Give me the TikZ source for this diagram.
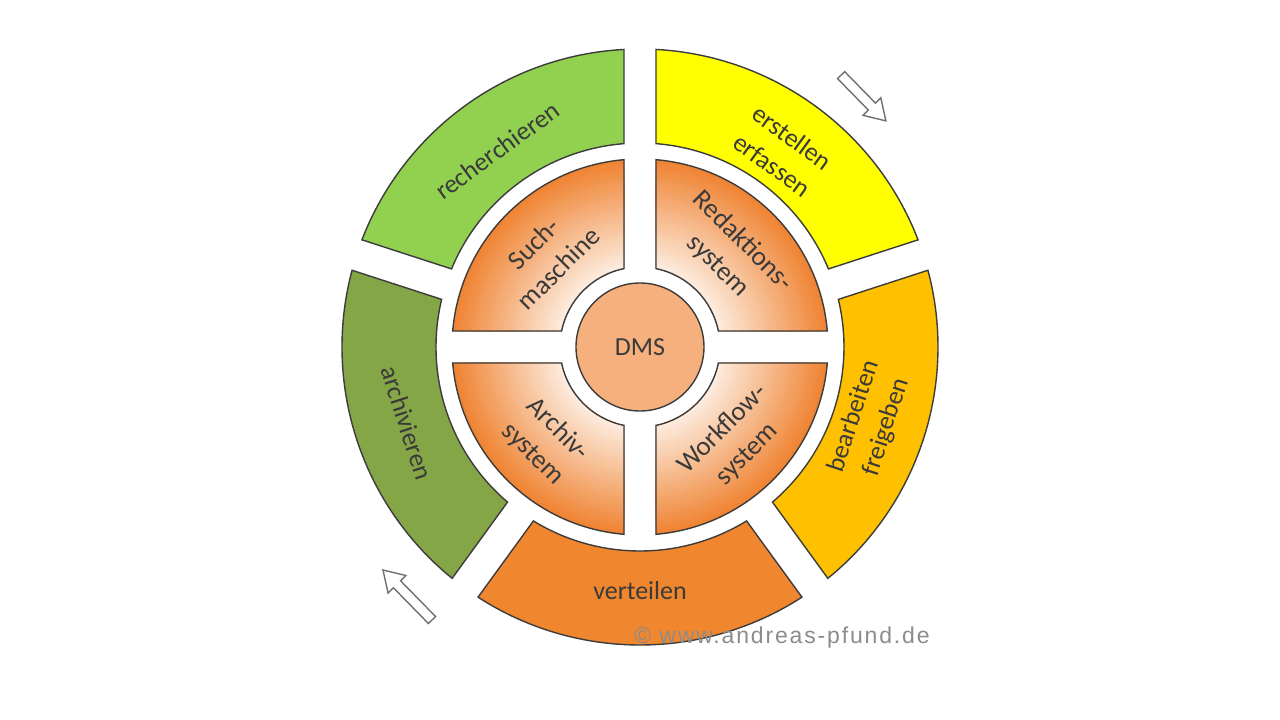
\documentclass[tikz,border=0pt]{standalone}
\usepackage{fontspec}
\setmainfont{Carlito}
\newfontfamily\wmfont[LetterSpace=8]{Liberation Sans}
\definecolor{cRech}{HTML}{92D050}
\definecolor{cErst}{HTML}{FFFF00}
\definecolor{cBear}{HTML}{FFC000}
\definecolor{cVert}{HTML}{F0862D}
\definecolor{cArch}{HTML}{84A646}
\definecolor{cDMS}{HTML}{F5B07E}
\definecolor{qdark}{HTML}{EF8230}
\definecolor{qlight}{HTML}{FDEEE2}
\definecolor{cLine}{HTML}{3C3C3C}
\definecolor{cText}{HTML}{3A3A3A}
\definecolor{cWM}{HTML}{8C8C8C}
\definecolor{cArrow}{HTML}{707070}
\newcommand\segpath[6]{(#1-#6:#4) arc[start angle=#1-#6, end angle=#2+#6, radius=#4] -- (#2+#5:#3) arc[start angle=#2+#5, end angle=#1-#5, radius=#3] -- cycle}
\newcommand\flowarrow[3]{%
  \begin{scope}[shift={#1}, rotate=#2]
    \draw[arrowline] (-#3/2,-5) -- (#3/2-20,-5) -- (#3/2-20,-12.5) -- (#3/2,0) -- (#3/2-20,12.5) -- (#3/2-20,5) -- (-#3/2,5) -- cycle;
  \end{scope}}
\pgfmathsetmacro\dO{asin(16/298)}
\pgfmathsetmacro\dI{asin(16/204)}
\pgfmathsetmacro\qO{asin(16/188)}
\pgfmathsetmacro\qI{asin(16/80)}
\begin{document}
\begin{tikzpicture}[x=1pt,y=1pt,
  segline/.style={draw=cLine, line width=1.4pt, line join=miter},
  ringtxt/.style={text=cText, font=\fontsize{26}{34}\selectfont, align=center, inner sep=0pt},
  quadtxt/.style={text=cText, font=\fontsize{27}{35}\selectfont, align=center, inner sep=0pt},
  arrowline/.style={draw=cArrow, fill=white, line width=1.4pt, line join=miter}]
\fill[white] (-640,-373) rectangle (640,347);
\useasboundingbox (-640,-373) rectangle (640,347);
% outer ring
\path[segline, fill=cErst] \segpath{90}{18}{204}{298}{\dI}{\dO};
\path[segline, fill=cBear] \segpath{18}{-54}{204}{298}{\dI}{\dO};
\path[segline, fill=cVert] \segpath{-54}{-126}{204}{298}{\dI}{\dO};
\path[segline, fill=cArch] \segpath{234}{162}{204}{298}{\dI}{\dO};
\path[segline, fill=cRech] \segpath{162}{90}{204}{298}{\dI}{\dO};
% inner quadrants with radial gradient
\begin{scope}
  \clip \segpath{180}{90}{80}{188}{\qI}{\qO} \segpath{90}{0}{80}{188}{\qI}{\qO}
        \segpath{0}{-90}{80}{188}{\qI}{\qO} \segpath{-90}{-180}{80}{188}{\qI}{\qO};
  \foreach \i in {0,...,40} {
    \pgfmathsetmacro\rr{190-\i*2.75}
    \pgfmathtruncatemacro\pp{\i*2.5}
    \fill[qlight!\pp!qdark] (0,0) circle (\rr);
  }
\end{scope}
\path[segline] \segpath{180}{90}{80}{188}{\qI}{\qO};
\path[segline] \segpath{90}{0}{80}{188}{\qI}{\qO};
\path[segline] \segpath{0}{-90}{80}{188}{\qI}{\qO};
\path[segline] \segpath{-90}{-180}{80}{188}{\qI}{\qO};
% centre
\node[circle, minimum size=128pt, fill=cDMS, draw=cLine, line width=1.4pt, text=cText, font=\fontsize{26}{31}\selectfont, inner sep=0pt] (dms) at (0,0) {DMS};
% ring texts
\node[ringtxt, rotate=36] (trech) at (126:243) {recherchieren};
\node[ringtxt, rotate=-36] (terst) at (54:242) {erstellen\\erfassen};
\node[ringtxt, rotate=72] (tbear) at (-18:242) {bearbeiten\\freigeben};
\node[ringtxt] (tvert) at (-90:244) {verteilen};
\node[ringtxt, rotate=-72] (tarch) at (198:245) {archivieren};
% quadrant texts
\node[quadtxt, rotate=45] (tsuch) at (136:131) {Such-\\maschine};
\node[quadtxt, rotate=-45] (tredak) at (46:130) {Redaktions-\\system};
\node[quadtxt, rotate=45] (twork) at (-45:134) {Workflow-\\system};
\node[quadtxt, rotate=-45] (tarchs) at (225:134) {Archiv-\\system};
% flow arrows
\flowarrow{(223.5,249)}{-45.6}{64}
\flowarrow{(-232.5,-248)}{134.4}{70}
% watermark
\node[anchor=base west, inner sep=0pt, text=cWM, font=\wmfont\fontsize{23}{25}\selectfont] (wm) at (-6,-296) {© www.andreas-pfund.de};
\end{tikzpicture}
\end{document}
